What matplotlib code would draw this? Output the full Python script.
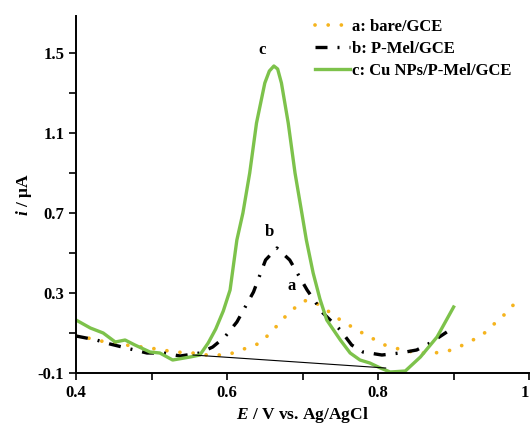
import matplotlib
matplotlib.use("Agg")
import matplotlib.pyplot as plt

plt.rcParams['font.family'] = ['Liberation Serif', 'DejaVu Serif']
plt.rcParams['font.weight'] = 'bold'
plt.rcParams['mathtext.fontset'] = 'custom'
plt.rcParams['mathtext.it'] = 'Liberation Serif:italic:bold'
plt.rcParams['mathtext.rm'] = 'Liberation Serif:bold'

# a: bare/GCE
va = [0.40, 0.41, 0.445, 0.498, 0.531, 0.554, 0.573, 0.60, 0.626, 0.644, 0.661, 0.679, 0.697, 0.706,
      0.723, 0.746, 0.772, 0.789, 0.809, 0.832, 0.853, 0.875, 0.898, 0.918, 0.938, 0.955, 0.971, 0.988]
ia = [0.085, 0.08, 0.05, 0.025, 0.005, 0.0, -0.01, -0.01, 0.025, 0.05, 0.115, 0.19, 0.25, 0.265,
      0.24, 0.175, 0.115, 0.08, 0.04, 0.015, 0.0, 0.0, 0.015, 0.05, 0.09, 0.15, 0.205, 0.28]

# b: P-Mel/GCE
vb = [0.40, 0.427, 0.445, 0.472, 0.494, 0.516, 0.538, 0.564, 0.581, 0.597, 0.613, 0.635, 0.651, 0.666,
      0.683, 0.706, 0.727, 0.75, 0.765, 0.78, 0.805, 0.829, 0.851, 0.869, 0.891]
ib = [0.085, 0.065, 0.045, 0.02, 0.0, 0.0, -0.015, 0.0, 0.03, 0.08, 0.155, 0.305, 0.465, 0.525,
      0.465, 0.315, 0.2, 0.115, 0.04, 0.005, -0.01, 0.0, 0.015, 0.05, 0.105]

# c: Cu NPs/P-Mel/GCE
vc = [0.40, 0.419, 0.436, 0.452, 0.465, 0.478, 0.498, 0.511, 0.528, 0.551, 0.564, 0.575, 0.585, 0.595,
      0.604, 0.613, 0.621, 0.630, 0.639, 0.650, 0.656, 0.662, 0.667, 0.672, 0.681, 0.690, 0.699, 0.705,
      0.714, 0.723, 0.732, 0.75, 0.763, 0.776, 0.789, 0.803, 0.816, 0.836, 0.856, 0.878, 0.90]
ic = [0.165, 0.125, 0.10, 0.055, 0.065, 0.04, 0.005, 0.0, -0.035, -0.02, -0.01, 0.05, 0.12, 0.21,
      0.315, 0.565, 0.70, 0.90, 1.15, 1.35, 1.41, 1.435, 1.42, 1.35, 1.15, 0.90, 0.70, 0.565,
      0.40, 0.27, 0.165, 0.065, 0.0, -0.035, -0.05, -0.075, -0.095, -0.09, -0.02, 0.08, 0.23]

# baseline
vbase = [0.555, 0.81]
ibase = [-0.01, -0.075]

xticks = [0.4, 0.6, 0.8, 1.0]
xtick_labels = ['0.4', '0.6', '0.8', '1']
xminor = [0.5, 0.7, 0.9]
yticks = [-0.1, 0.3, 0.7, 1.1, 1.5]
yminor = [0.1, 0.5, 0.9, 1.3]

fig = plt.figure(figsize=(5.30, 4.26), dpi=100)
ax = fig.add_axes([0.1434, 0.1244, 0.855, 0.838])

ax.plot(va, ia, color='#F5B41E', lw=2.7, linestyle=(0, (0.01, 3.5)), dash_capstyle='round',
        label='a: bare/GCE')
ax.plot(vb, ib, color='black', lw=2.4, linestyle=(0, (3.6, 3.0, 0.6, 3.0)),
        label='b: P-Mel/GCE')
ax.plot(vc, ic, color='#7DC24B', lw=2.4, label='c: Cu NPs/P-Mel/GCE')
ax.plot(vbase, ibase, color='black', lw=0.8)

ax.text(0.685, 0.295, 'a', fontsize=12, ha='center', va='bottom')
ax.text(0.656, 0.565, 'b', fontsize=12, ha='center', va='bottom')
ax.text(0.646, 1.475, 'c', fontsize=12, ha='center', va='bottom')

ax.set_xlim(0.4, 1.0)
ax.set_ylim(-0.1, 1.685)
ax.set_xticks(xticks)
ax.set_xticklabels(xtick_labels)
ax.set_xticks(xminor, minor=True)
ax.set_yticks(yticks)
ax.set_yticklabels(['%g' % t for t in yticks])
ax.set_yticks(yminor, minor=True)
ax.tick_params(which='both', direction='out', length=5, width=1.2, labelsize=12)
for lab in ax.get_xticklabels() + ax.get_yticklabels():
    lab.set_fontweight('bold')
ax.get_xticklabels()[-1].set_horizontalalignment('right')
ax.spines['top'].set_visible(False)
ax.spines['right'].set_visible(False)
ax.spines['left'].set_linewidth(1.4)
ax.spines['bottom'].set_linewidth(1.4)

ax.set_xlabel('$E$ / V vs. Ag/AgCl', fontsize=12.5, fontweight='bold', labelpad=3)
ax.set_ylabel('$i$ / μA', fontsize=12.5, fontweight='bold', labelpad=3)

leg = ax.legend(loc='upper left', bbox_to_anchor=(0.566, 0.991), bbox_transform=fig.transFigure,
                frameon=False, handlelength=2.1, handletextpad=0.15, labelspacing=0.35,
                prop={'family': 'Liberation Serif', 'weight': 'bold', 'size': 12})

fig.savefig('out.png', dpi=100)
